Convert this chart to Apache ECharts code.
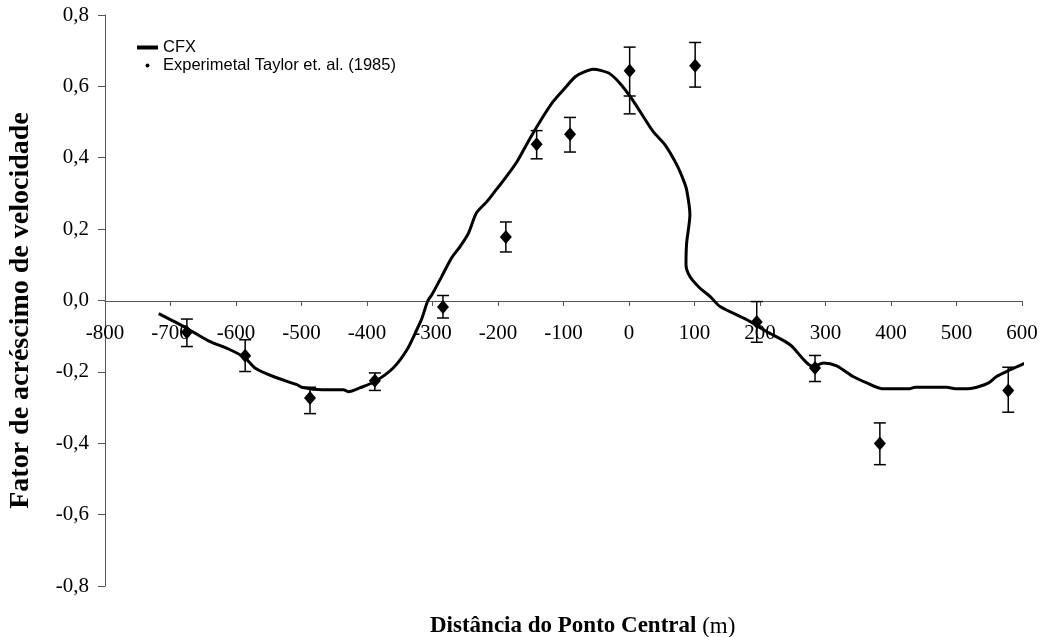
<!DOCTYPE html>
<html>

<head>
	<meta charset="utf-8">
	<title>Fator de acréscimo de velocidade</title>
	<script src="https://cdn.jsdelivr.net/npm/echarts@6.0.0/dist/echarts.min.js"></script>
	<style>
		html, body { margin: 0; padding: 0; background: #fff; }
	</style>
</head>

<body>
	<div id="main" style="width: 1044px;height:637px;"></div>

	<script type="text/javascript">
		// curva CFX
		var cfxX = [-718, -676, -642, -609, -586, -571, -543, -507, -500, -469, -436, -428, -411, -388, -360,
			-339, -324, -316, -307, -301, -286, -271, -258, -245, -233, -217, -205, -189, -171, -154, -136,
			-116, -98, -82, -70, -55, -42, -29, -14, 2, 22, 37, 55, 73, 83, 88, 93, 88, 87, 93, 108, 124,
			139, 180, 210, 246, 281, 297, 317, 342, 363, 386, 429, 437, 485, 498, 518, 531, 549, 561, 582, 610];
		var cfxY = [-0.037, -0.077, -0.113, -0.138, -0.161, -0.189, -0.213, -0.236, -0.243, -0.250, -0.250, -0.256, -0.245, -0.227, -0.189,
			-0.138, -0.082, -0.049, 0.0, 0.016, 0.067, 0.119, 0.151, 0.189, 0.245, 0.277, 0.305, 0.343, 0.389, 0.445, 0.501,
			0.557, 0.595, 0.627, 0.639, 0.648, 0.644, 0.635, 0.609, 0.571, 0.515, 0.473, 0.436, 0.380, 0.338, 0.310, 0.240, 0.161, 0.100, 0.067, 0.035, 0.011,
			-0.017, -0.054, -0.087, -0.124, -0.185, -0.175, -0.183, -0.213, -0.231, -0.247, -0.247, -0.243, -0.243, -0.247, -0.247, -0.243, -0.231, -0.213, -0.194, -0.171];

		// pontos experimentais Taylor et al. (1985)
		var expX = [-675, -586, -487, -388, -284, -188, -141, -90, 1, 101, 195, 284, 383, 579];
		var expY = [-0.089, -0.155, -0.273, -0.225, -0.018, 0.178, 0.438, 0.466, 0.644, 0.658, -0.060, -0.189, -0.401, -0.252];
		var errLow = [-0.129, -0.199, -0.317, -0.252, -0.049, 0.136, 0.397, 0.416, 0.523, 0.598, -0.117, -0.227, -0.460, -0.313];
		var errHigh = [-0.052, -0.110, -0.243, -0.203, 0.014, 0.220, 0.476, 0.513, 0.710, 0.723, -0.003, -0.154, -0.343, -0.187];
		// traço extra da barra em x = 0
		var extraCapX = [1];
		var extraCapY = [0.573];

		var xTicks = { min: -800, max: 600, step: 100 };
		var yTicks = { min: -0.8, max: 0.8, step: 0.2 };

		var serif = 'Liberation Serif';
		var sans = 'Liberation Sans';

		var cfxData = cfxX.map(function (x, i) { return [x, cfxY[i]]; });
		var expData = expX.map(function (x, i) { return [x, expY[i]]; });
		var errData = expX.map(function (x, i) { return [x, errLow[i], errHigh[i]]; });
		var capData = extraCapX.map(function (x, i) { return [x, extraCapY[i]]; });

		var myChart = echarts.init(document.getElementById('main'));

		function capLine(p, half) {
			return {
				type: 'line',
				shape: { x1: p[0] - half, y1: p[1], x2: p[0] + half, y2: p[1] },
				style: { stroke: '#000', lineWidth: 1.5 }
			};
		}

		var option = {
			animation: false,
			title: {
				text: '{b|Distância do Ponto Central}{n| (m)}',
				left: 425,
				top: 610,
				textStyle: {
					rich: {
						b: { fontFamily: serif, fontWeight: 'bold', fontSize: 23, color: '#000' },
						n: { fontFamily: serif, fontWeight: 'normal', fontSize: 23, color: '#000' }
					}
				}
			},
			legend: {
				orient: 'vertical',
				left: 132,
				top: 34,
				itemWidth: 21,
				itemHeight: 4,
				itemGap: 1,
				textStyle: { fontFamily: sans, fontSize: 16.5, color: '#000' },
				data: [
					{ name: 'CFX', icon: 'rect' },
					{ name: 'Experimetal Taylor et. al. (1985)', icon: 'circle' }
				]
			},
			// grid 0: dados; grid 1: só o eixo x, cuja base fica na linha y = 0
			grid: [{
				left: 105,
				right: 22,
				top: 15,
				bottom: 51,
				outerBoundsMode: 'none'
			}, {
				left: 105,
				right: 22,
				top: 15,
				bottom: 336,
				outerBoundsMode: 'none'
			}],
			xAxis: [{
				gridIndex: 0,
				type: 'value',
				min: xTicks.min,
				max: xTicks.max,
				interval: xTicks.step,
				show: false,
				splitLine: { show: false }
			}, {
				gridIndex: 1,
				type: 'value',
				position: 'bottom',
				min: xTicks.min,
				max: xTicks.max,
				interval: xTicks.step,
				splitLine: { show: false },
				axisLine: { onZero: false, lineStyle: { color: '#555', width: 1 } },
				axisTick: { length: 5, lineStyle: { color: '#555' } },
				axisLabel: {
					margin: 22,
					fontFamily: serif,
					fontSize: 21,
					color: '#000',
					showMinLabel: true,
					showMaxLabel: true
				}
			}],
			yAxis: [{
				gridIndex: 0,
				type: 'value',
				min: yTicks.min,
				max: yTicks.max,
				interval: yTicks.step,
				name: 'Fator de acréscimo de velocidade',
				nameLocation: 'middle',
				nameRotate: 90,
				nameGap: 70,
				nameTextStyle: {
					fontFamily: serif,
					fontWeight: 'bold',
					fontSize: 28,
					color: '#000',
					padding: [0, 20, 0, 0]
				},
				splitLine: { show: false },
				axisLine: { show: true, onZero: false, lineStyle: { color: '#555', width: 1 } },
				axisTick: { show: true, length: 7, lineStyle: { color: '#555' } },
				axisLabel: {
					margin: 16,
					fontFamily: serif,
					fontSize: 21,
					color: '#000',
					formatter: function (v) {
						if (Math.abs(v) < 1e-9) v = 0;
						return v.toFixed(1).replace('.', ',');
					}
				}
			}, {
				gridIndex: 1,
				type: 'value',
				min: 0,
				max: 1,
				show: false,
				splitLine: { show: false }
			}],
			series: [{
					name: 'CFX',
					type: 'line',
					data: cfxData,
					symbol: 'none',
					smooth: 0.25,
					clip: false,
					lineStyle: { color: '#000', width: 3 },
					itemStyle: { color: '#000' },
					z: 3
				},
				{
					name: 'errbar',
					type: 'custom',
					data: errData,
					clip: false,
					renderItem: function (params, api) {
						var lo = api.coord([api.value(0), api.value(1)]);
						var hi = api.coord([api.value(0), api.value(2)]);
						return {
							type: 'group',
							children: [{
									type: 'line',
									shape: { x1: lo[0], y1: lo[1], x2: hi[0], y2: hi[1] },
									style: { stroke: '#000', lineWidth: 1.5 }
								},
								capLine(lo, 6),
								capLine(hi, 6)
							]
						};
					},
					encode: { x: 0, y: [1, 2] },
					z: 4
				},
				{
					name: 'errcap',
					type: 'custom',
					data: capData,
					renderItem: function (params, api) {
						var p = api.coord([api.value(0), api.value(1)]);
						return capLine(p, 6);
					},
					encode: { x: 0, y: 1 },
					z: 4
				},
				{
					name: 'Experimetal Taylor et. al. (1985)',
					type: 'scatter',
					data: expData,
					symbol: 'diamond',
					symbolSize: [12, 14],
					itemStyle: { color: '#000', opacity: 1 },
					z: 5
				}
			]
		};

		myChart.setOption(option);
	</script>
</body>

</html>
